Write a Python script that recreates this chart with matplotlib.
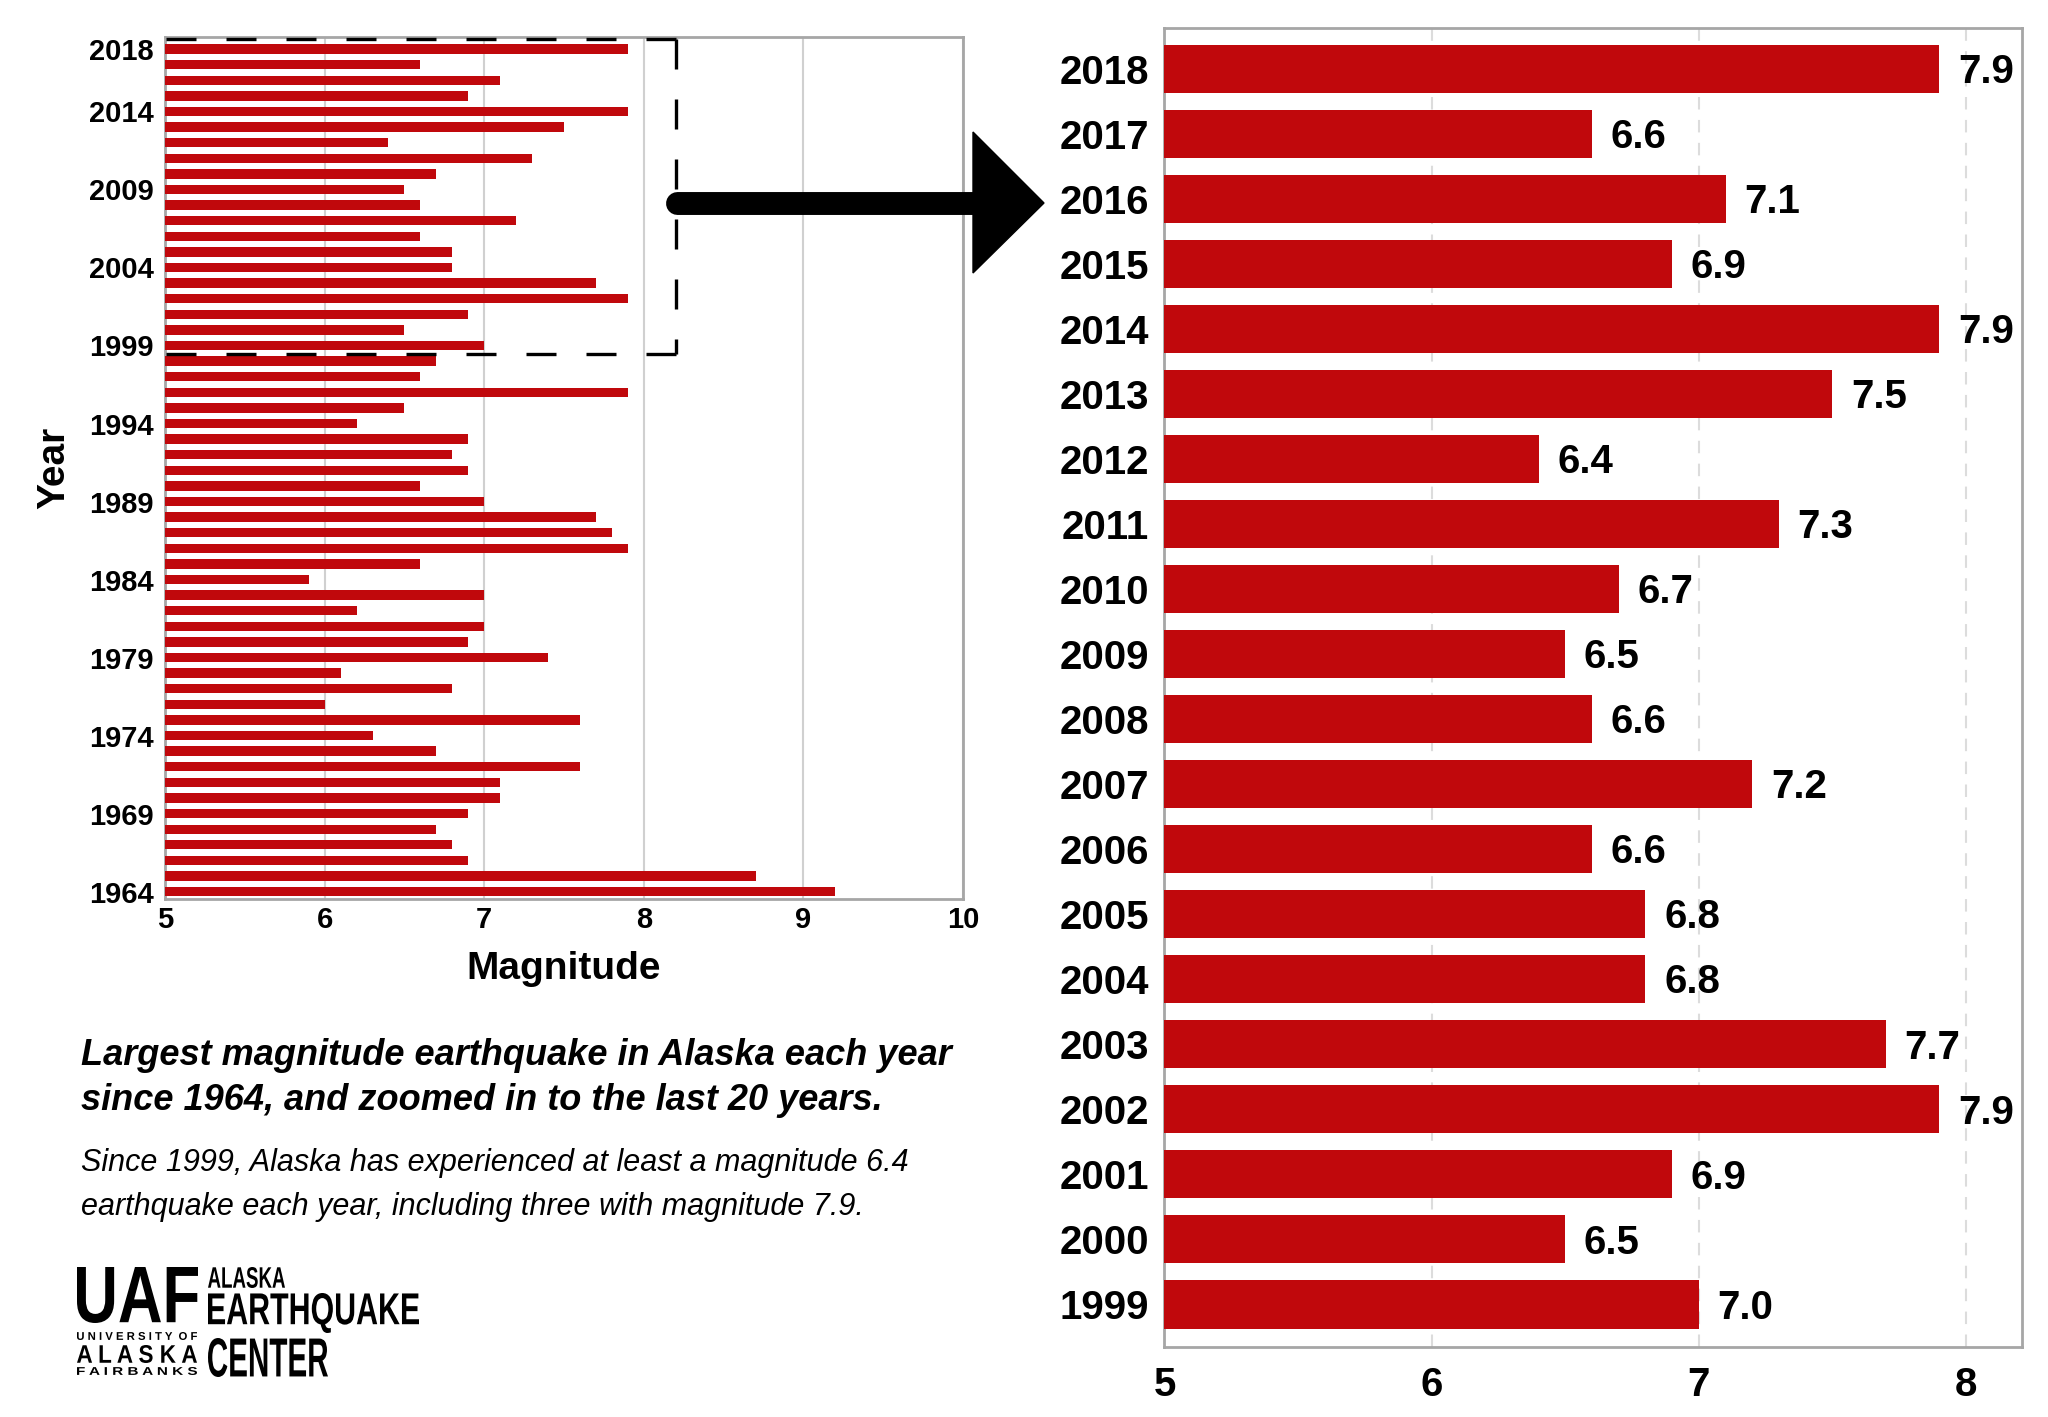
import matplotlib
matplotlib.use('Agg')
import matplotlib.pyplot as plt
from matplotlib.lines import Line2D
from matplotlib.patches import Polygon, PathPatch
from matplotlib.textpath import TextPath
from matplotlib.font_manager import FontProperties
from matplotlib.transforms import Affine2D

# --------------------------------------------------
# data: largest magnitude earthquake in Alaska each year
years = list(range(1964, 2019))
magnitudes = [9.2, 8.7, 6.9, 6.8, 6.7, 6.9, 7.1, 7.1, 7.6, 6.7,
              6.3, 7.6, 6.0, 6.8, 6.1, 7.4, 6.9, 7.0, 6.2, 7.0,
              5.9, 6.6, 7.9, 7.8, 7.7, 7.0, 6.6, 6.9, 6.8, 6.9,
              6.2, 6.5, 7.9, 6.6, 6.7,
              7.0, 6.5, 6.9, 7.9, 7.7, 6.8, 6.8, 6.6, 7.2, 6.6,
              6.5, 6.7, 7.3, 6.4, 7.5, 7.9, 6.9, 7.1, 6.6, 7.9]
left_ticks = [1964, 1969, 1974, 1979, 1984, 1989, 1994, 1999, 2004, 2009,
              2014, 2018]
zoom_from = 1999

title = ('Largest magnitude earthquake in Alaska each year\n'
         'since 1964, and zoomed in to the last 20 years.')
subtitle = ('Since 1999, Alaska has experienced at least a magnitude 6.4\n'
            'earthquake each year, including three with magnitude 7.9.')

RED = '#c0080c'
FRAME = '#a6a6a6'
W, H = 2048, 1417

plt.rcParams['font.family'] = ['Liberation Sans', 'DejaVu Sans']

fig = plt.figure(figsize=(W / 100, H / 100), dpi=100)


def fx(px):
    return px / W


def fy(py):
    return 1 - py / H


# --------------------------------------------------
# left: all years
ax1 = fig.add_axes([0.0806, 0.3656, 0.3896, 0.6085])
ax1.barh(years, magnitudes, height=0.6, color=RED, zorder=3)
ax1.set_xlim(5, 10)
ax1.set_ylim(1963.53, 2018.79)
ax1.set_xticks([5, 6, 7, 8, 9, 10])
ax1.set_yticks(left_ticks)
ax1.tick_params(length=0, labelsize=21)
ax1.tick_params(axis='x', pad=5)
ax1.tick_params(axis='y', pad=8)
for lab in ax1.get_xticklabels() + ax1.get_yticklabels():
    lab.set_fontweight('bold')
ax1.grid(axis='x', color='#d0d0d0', lw=1.5, zorder=0)
for sp in ax1.spines.values():
    sp.set_color(FRAME)
    sp.set_linewidth(2)
ax1.set_xlabel('Magnitude', fontsize=28, fontweight='bold', labelpad=12)
ax1.set_ylabel('Year', fontsize=28, fontweight='bold', labelpad=12)

# dashed box around the zoomed years, dashes start at the right corners
box_top, box_bot, box_right = 2018.65, zoom_from - 0.53, 8.2
for xs, ys in [([box_right, 5], [box_top, box_top]),
               ([box_right, box_right], [box_top, box_bot]),
               ([box_right, 5], [box_bot, box_bot])]:
    ax1.plot(xs, ys, color='black', lw=2.4, ls=(0, (9, 9)),
             zorder=4, clip_on=False, solid_capstyle='butt')

# --------------------------------------------------
# right: zoom in on last 20 years
recent_years = [y for y in years if y >= zoom_from]
recent_mags = [m for y, m in zip(years, magnitudes) if y >= zoom_from]

ax2 = fig.add_axes([0.5686, 0.0496, 0.4188, 0.9304])
ax2.barh(recent_years, recent_mags, height=0.74, color=RED, zorder=3)
ax2.set_xlim(5, 8.21)
ax2.set_ylim(zoom_from - 0.65, 2018.62)
ax2.set_xticks([5, 6, 7, 8])
ax2.set_yticks(recent_years)
ax2.tick_params(length=0, labelsize=29)
ax2.tick_params(axis='x', pad=14)
ax2.tick_params(axis='y', pad=11)
for lab in ax2.get_xticklabels() + ax2.get_yticklabels():
    lab.set_fontweight('bold')
ax2.grid(axis='x', color='#dcdcdc', lw=1.5, ls=(0, (6, 5)), zorder=0)
for sp in ax2.spines.values():
    sp.set_color(FRAME)
    sp.set_linewidth(2)
for y, m in zip(recent_years, recent_mags):
    ax2.text(m + 0.07, y - 0.05, '{:.1f}'.format(m), fontsize=29,
             fontweight='bold', va='center', ha='left', zorder=5)

# --------------------------------------------------
# arrow between the charts
fig.add_artist(Line2D([fx(677), fx(980)], [fy(203), fy(203)], color='black',
                      lw=16.5, solid_capstyle='round'))
fig.add_artist(Polygon([(fx(973), fy(132)), (fx(1044), fy(203)),
                        (fx(973), fy(273))], closed=True, color='black'))

# --------------------------------------------------
# caption
fig.text(fx(81), fy(1038), title, fontsize=26, fontweight='bold',
         fontstyle='italic', va='top', ha='left', linespacing=1.37)
fig.text(fx(81), fy(1148), subtitle, fontsize=22, fontstyle='italic',
         va='top', ha='left', linespacing=1.6)


# --------------------------------------------------
# logo, text squeezed into boxes
def fit_text(s, x0, y0, x1, y1, weight='bold'):
    prop = FontProperties(family='Liberation Sans', weight=weight)
    tp = TextPath((0, 0), s, size=100, prop=prop)
    ext = tp.get_extents()
    sx = (fx(x1) - fx(x0)) / ext.width
    sy = (fy(y0) - fy(y1)) / ext.height
    tr = Affine2D().translate(-ext.x0, -ext.y0).scale(sx, sy) \
        .translate(fx(x0), fy(y1))
    fig.add_artist(PathPatch(tp, transform=tr + fig.transFigure,
                             color='black', lw=0))


fit_text('UAF', 77, 1267, 198, 1323)
fit_text('U N I V E R S I T Y  O F', 77, 1332, 197, 1340)
fit_text('A L A S K A', 77, 1345, 197, 1363)
fit_text('F A I R B A N K S', 77, 1367, 197, 1375)
fit_text('ALASKA', 208, 1267, 285, 1288)
fit_text('EARTHQUAKE', 208, 1293, 419, 1333)
fit_text('CENTER', 208, 1338, 328, 1377)

fig.savefig('out.png', dpi=100)
